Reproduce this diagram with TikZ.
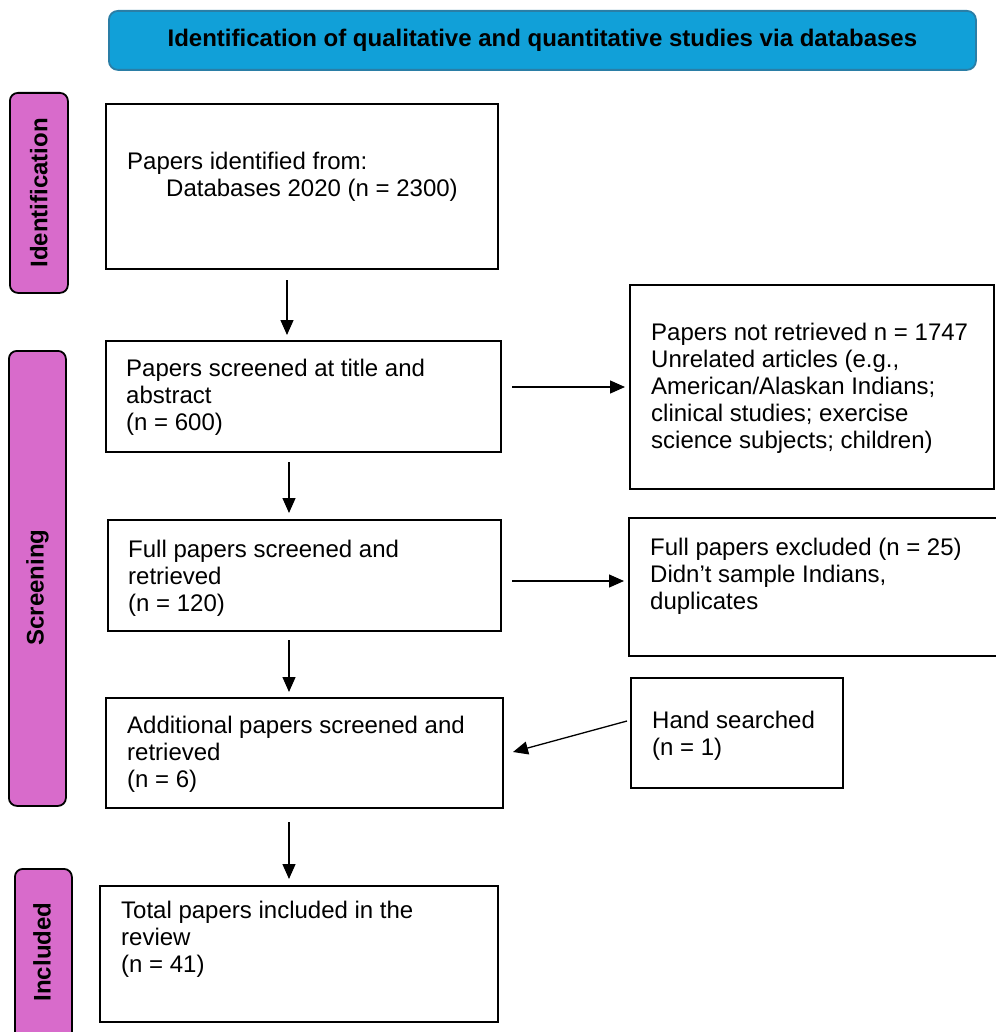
\documentclass[tikz,border=0pt]{standalone}
\usepackage{fontspec}
\setmainfont{Liberation Sans}
\usetikzlibrary{calc,arrows.meta}
\definecolor{bannerblue}{HTML}{11A0D8}
\definecolor{banneredge}{HTML}{2A7EA6}
\definecolor{stagepink}{HTML}{D86BCB}
\newcommand{\tstrut}{\rule{0pt}{18pt}}
\begin{document}
\begin{tikzpicture}[x=1pt,y=-1pt,
  box/.style={draw=black, line width=2pt, inner sep=0pt, anchor=north west},
  stage/.style={draw=black, fill=stagepink, line width=1.8pt, rounded corners=8pt, inner sep=0pt, anchor=north west},
  stagetxt/.style={rotate=90, inner sep=0pt, font=\fontsize{24}{27}\selectfont\bfseries},
  banner/.style={draw=banneredge, fill=bannerblue, line width=1.8pt, rounded corners=9pt, inner sep=0pt, anchor=north west, font=\fontsize{24}{27}\selectfont\bfseries},
  txt/.style={anchor=north west, inner sep=0pt, align=left, font=\fontsize{24}{27}\selectfont},
  arr/.style={line width=1.3pt, -{Triangle[length=15pt,width=13pt]}}]
\useasboundingbox (0,0) rectangle (995,1032);

% heading banner
\node[banner, minimum width=867pt, minimum height=59pt] (ban) at (108,10)
  {Identification of qualitative and quantitative studies via databases};

% stage bars on the left
\node[stage, minimum width=58pt, minimum height=200pt] (sid) at (9,92) {};
\node[stage, minimum width=57pt, minimum height=455pt] (ssc) at (8,350) {};
\node[stage, minimum width=57pt, minimum height=180pt] (sin) at (14,868) {};
\node[stagetxt] (tid) at (sid.center) {Identification};
\node[stagetxt] (tsc) at ($(ssc.center)+(0,9)$) {Screening};
\node[stagetxt] (tin) at (42,952) {Included};

% main column
\node[box, minimum width=392pt, minimum height=165pt] (b1) at (105,103) {};
\node[box, minimum width=395pt, minimum height=111pt] (b2) at (105,340) {};
\node[box, minimum width=393pt, minimum height=111pt] (b3) at (107,519) {};
\node[box, minimum width=397pt, minimum height=110pt] (b4) at (105,697) {};
\node[box, minimum width=398pt, minimum height=136pt] (b5) at (99,885) {};

% side boxes
\node[box, minimum width=364pt, minimum height=204pt] (r1) at (629,284) {};
\node[box, minimum width=380pt, minimum height=138pt] (r2) at (628,517) {};
\node[box, minimum width=212pt, minimum height=110pt] (r3) at (630,677) {};

% box texts
\node[txt] (t1) at ($(b1.north west)+(22,48)$)
  {\tstrut Papers identified from:\\\hspace*{39pt}Databases 2020 (n = 2300)};
\node[txt] (t2) at ($(b2.north west)+(21,18)$)
  {\tstrut Papers screened at title and\\abstract\\(n = 600)};
\node[txt] (t3) at ($(b3.north west)+(21,20)$)
  {\tstrut Full papers screened and\\retrieved\\(n = 120)};
\node[txt] (t4) at ($(b4.north west)+(22,18)$)
  {\tstrut Additional papers screened and\\retrieved\\(n = 6)};
\node[txt] (t5) at ($(b5.north west)+(22,15)$)
  {\tstrut Total papers included in the\\review\\(n = 41)};
\node[txt] (u1) at ($(r1.north west)+(22,38)$)
  {\tstrut Papers not retrieved n = 1747\\Unrelated articles (e.g.,\\American/Alaskan Indians;\\clinical studies; exercise\\science subjects; children)};
\node[txt] (u2) at ($(r2.north west)+(22,20)$)
  {\tstrut Full papers excluded (n = 25)\\Didn’t sample Indians,\\duplicates};
\node[txt] (u3) at ($(r3.north west)+(22,33)$)
  {\tstrut Hand searched\\(n = 1)};

% connectors
\draw[arr] ($(b1.south west)+(182,10)$) -- ($(b2.north west)+(182,-5)$);
\draw[arr] ($(b2.south west)+(184,9)$) -- ($(b3.north west)+(182,-6)$);
\draw[arr] ($(b3.south west)+(182,8)$) -- ($(b4.north west)+(184,-5)$);
\draw[arr] ($(b4.south west)+(184,13)$) -- ($(b5.north west)+(190,-6)$);
\draw[arr] ($(b2.north east)+(10,47)$) -- ($(r1.north west)+(-4,103)$);
\draw[arr] ($(b3.north east)+(10,62)$) -- ($(r2.north west)+(-4,64)$);
\draw[arr] ($(r3.north west)+(-3,44)$) -- ($(b4.north east)+(9,55)$);
\end{tikzpicture}
\end{document}
